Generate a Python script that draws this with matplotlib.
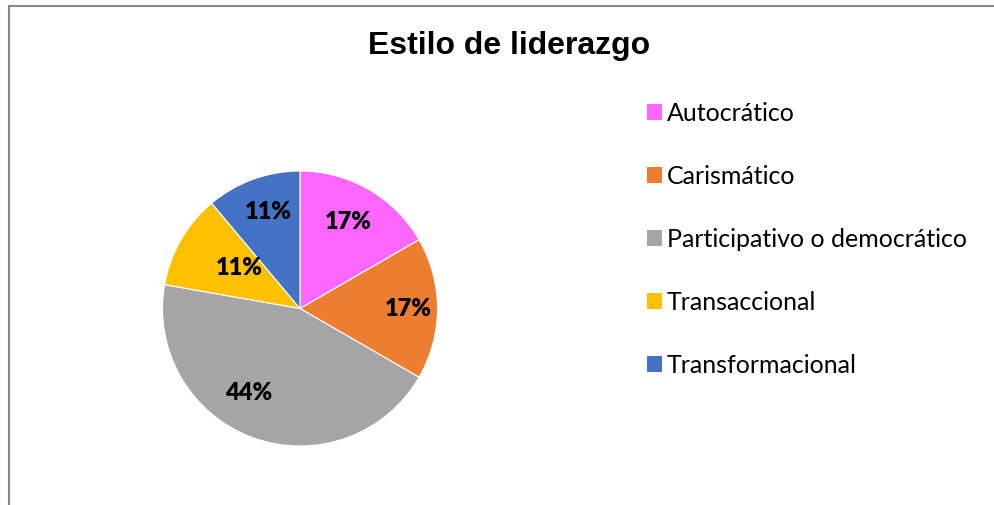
import matplotlib
matplotlib.use("Agg")
import numpy as np
import matplotlib.pyplot as plt
from matplotlib.patches import Patch
from matplotlib.lines import Line2D

# datos del grafico
categorias = ["Autocrático", "Carismático", "Participativo o democrático",
              "Transaccional", "Transformacional"]
valores = [3, 3, 8, 2, 2]
colores = ["#FF66FF", "#ED7D31", "#A5A5A5", "#FFC000", "#4472C4"]
titulo = "Estilo de liderazgo"

# label placement tweaks (radial distance, angle shift in degrees), like Excel best fit
dist_etiqueta = [0.72, 0.785, 0.72, 0.53, 0.74]
giro_etiqueta = [1, 0, -11, -4, -2]

W, H = 994, 505
fig = plt.figure(figsize=(W / 100, H / 100), dpi=100)
fig.patch.set_facecolor("white")

# pie axes: center (300, 308) px, radius ~138 px
cx, cy, r = 300, 308.5, 137.5
ax = fig.add_axes([(cx - r) / W, (H - cy - r) / H, 2 * r / W, 2 * r / H])
wedges, texts, autotexts = ax.pie(
    valores, colors=colores, startangle=90, counterclock=False,
    autopct="%1.0f%%", pctdistance=0.72, radius=1,
    wedgeprops=dict(edgecolor="white", linewidth=0.8),
    textprops=dict(fontsize=17, fontweight="heavy", family="Lato", color="black"))
for w, t, d, g in zip(wedges, autotexts, dist_etiqueta, giro_etiqueta):
    ang = np.deg2rad((w.theta1 + w.theta2) / 2 + g)
    t.set_position((d * np.cos(ang), d * np.sin(ang)))
ax.set_xlim(-1, 1)
ax.set_ylim(-1, 1)
ax.axis("off")

# title
fig.text(509 / W, 1 - 46 / H, titulo, ha="center", va="center",
         fontsize=23, fontweight="bold", family="Liberation Sans")

# legend
handles = [Patch(facecolor=c, edgecolor="none") for c in colores]
fig.legend(handles, categorias, loc="upper left",
           bbox_to_anchor=(647 / W, 1 - 102 / H), frameon=False,
           prop=dict(family="Lato", size=18), handlelength=0.58,
           handleheight=0.58, handletextpad=0.22, labelspacing=1.6,
           borderpad=0, borderaxespad=0)

# chart frame (top and left edges visible)
fig.add_artist(Line2D([9 / W, 1], [1 - 6 / H, 1 - 6 / H], color="#888888", lw=1.5))
fig.add_artist(Line2D([9 / W, 9 / W], [0, 1 - 6 / H], color="#888888", lw=1.5))

fig.savefig("out.png", dpi=100)
